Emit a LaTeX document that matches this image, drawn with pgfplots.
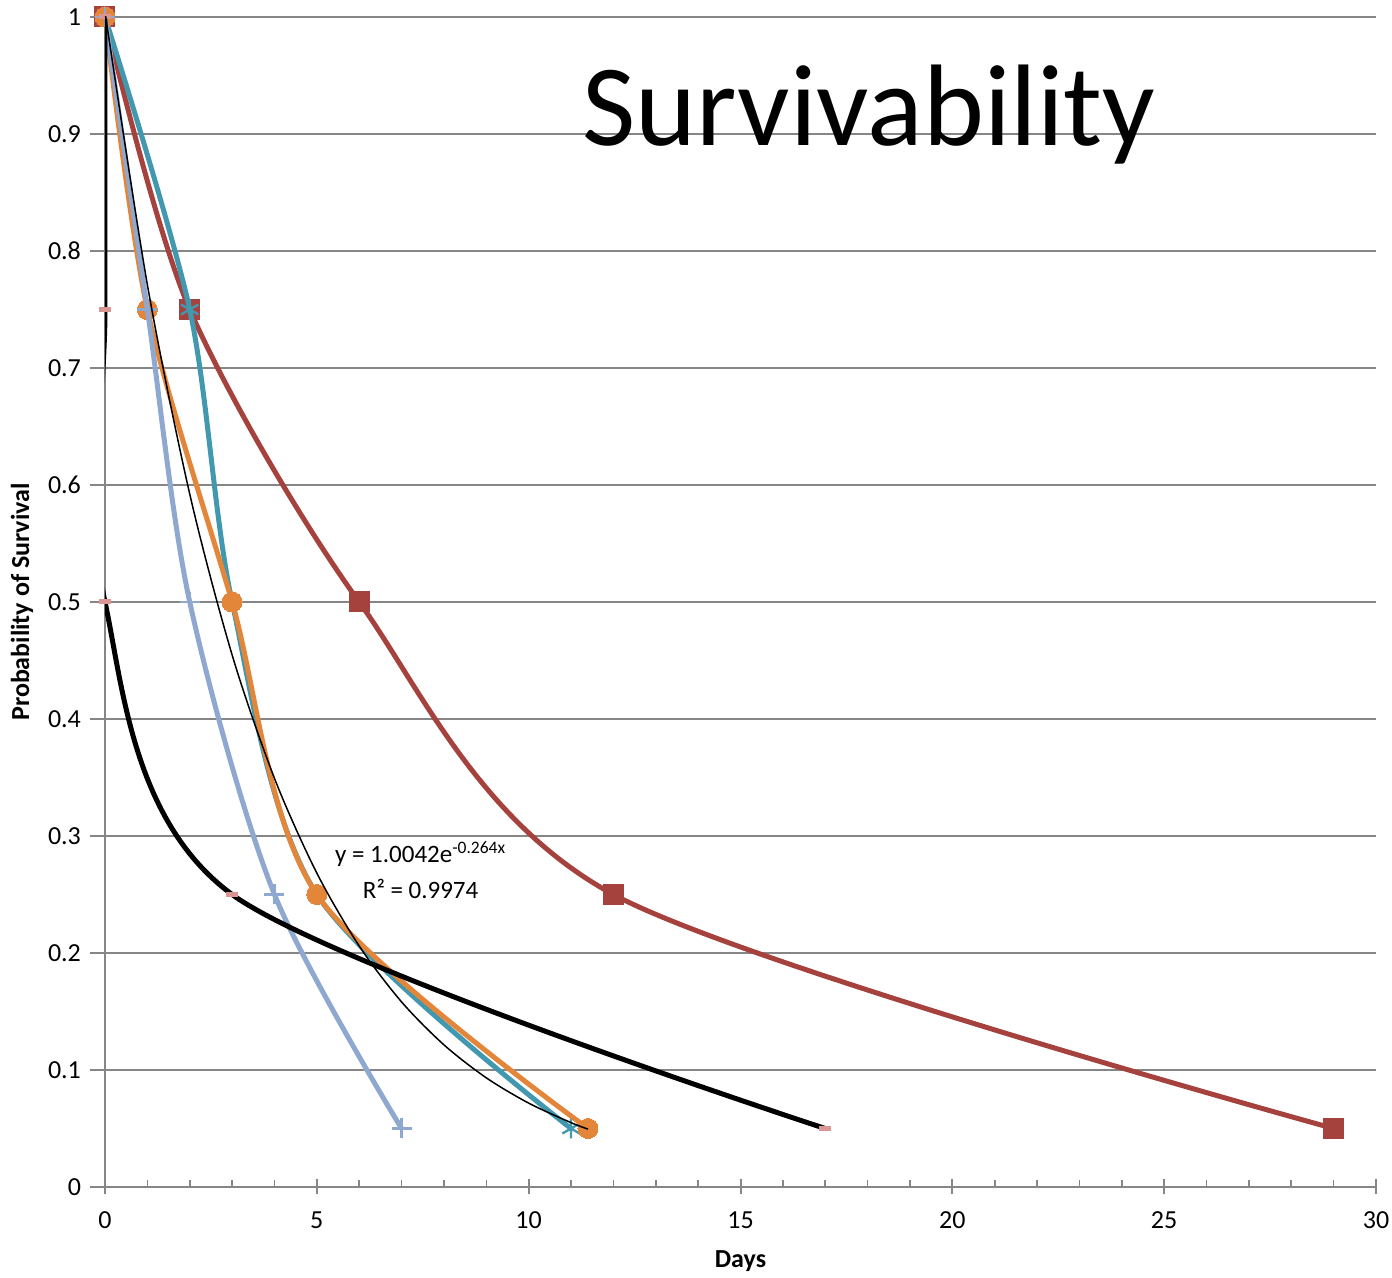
\documentclass[border=0pt]{standalone}
\usepackage{fontspec}
\setmainfont{Carlito}
\usepackage{pgfplots}
\pgfplotsset{compat=1.18}

\definecolor{cred}{RGB}{166,66,62}
\definecolor{cteal}{RGB}{65,152,175}
\definecolor{corange}{RGB}{228,134,58}
\definecolor{clav}{RGB}{143,168,208}
\definecolor{cpink}{RGB}{217,150,148}
\definecolor{cgrid}{RGB}{134,134,134}

\begin{document}
\begin{tikzpicture}
\begin{axis}[
    name=ax,
    scale only axis,
    width=635.5pt, height=585pt,
    xmin=0, xmax=30, ymin=0, ymax=1,
    axis lines*=left,
    axis line style={cgrid, line width=1pt},
    xtick={0,5,...,30},
    minor x tick num=4,
    ytick={0,0.1,...,1},
    ymajorgrids,
    grid style={cgrid, line width=1pt},
    major tick style={cgrid, line width=1pt},
    minor tick style={cgrid, line width=0.8pt},
    xtick align=center,
    ytick align=outside,
    major tick length=7.5pt,
    minor tick length=3.5pt,
    minor x tick style={yshift=1.75pt},
    font=\fontsize{13pt}{15pt}\selectfont,
    /pgf/number format/assume math mode=true,
    xticklabel style={yshift=-5pt},
    yticklabel style={xshift=-1pt},
    xlabel={\textbf{Days}},
    ylabel={\textbf{Probability of Survival}},
    xlabel style={at={(axis description cs:0.5,-0.063)}, anchor=center},
    ylabel style={at={(axis description cs:-0.0653,0.5)}, anchor=center},
    clip=true,
    clip mode=individual,
    clip marker paths=false,
]
% red, squares
\addplot[cred, line width=2.5pt, smooth, mark=square*, mark size=5pt,
    mark options={fill=cred, draw=cred, line width=0pt}] coordinates {
    (0,1) (2,0.75) (6,0.5) (12,0.25) (29,0.05)
};
% teal, stars
\addplot[cteal, line width=2.5pt, smooth, mark=asterisk, mark size=5pt,
    mark options={line width=1.2pt}] coordinates {
    (0,1) (2,0.75) (3,0.5) (5,0.25) (11,0.05)
};
% orange, circles
\addplot[corange, line width=2.5pt, smooth, mark=*, mark size=5pt,
    mark options={fill=corange, draw=corange, line width=0pt}] coordinates {
    (0,1) (1,0.75) (3,0.5) (5,0.25) (11.4,0.05)
};
% lavender, plus
\addplot[clav, line width=2.5pt, smooth, mark=+, mark size=5pt,
    mark options={line width=1.2pt}] coordinates {
    (0,1) (1,0.75) (2,0.5) (4,0.25) (7,0.05)
};
% black line, pink dash markers
\addplot[black, line width=2.5pt, smooth, mark=-, mark size=3pt,
    mark options={cpink, line width=2.5pt}] coordinates {
    (0,1) (0,0.75) (0,0.5) (3,0.25) (17,0.05)
};
% exponential trendline y = 1.0042 e^{-0.264x}
\addplot[black, line width=0.75pt, smooth] coordinates {
    (0,1.0042) (1,0.7712) (2,0.5923) (3,0.4548) (4,0.3493) (5,0.2683)
    (6,0.2060) (7,0.1582) (8,0.1215) (9,0.0933) (10,0.0717) (11,0.0550)
    (11.4,0.0495)
};
\node[align=center, font=\fontsize{12.5pt}{18pt}\selectfont] at (axis cs:7.45,0.271)
    {y = 1.0042e\textsuperscript{-0.264x}\\R² = 0.9974};
\node[anchor=base, font=\fontsize{58pt}{60pt}\selectfont, inner sep=0pt]
    at (axis cs:18.03,0.89) {Survivability};
\end{axis}
\pgfresetboundingbox
\path[use as bounding box] (ax.south west) ++(-52.5pt,-45.5pt) rectangle ++(696pt,639pt);
\end{tikzpicture}
\end{document}
